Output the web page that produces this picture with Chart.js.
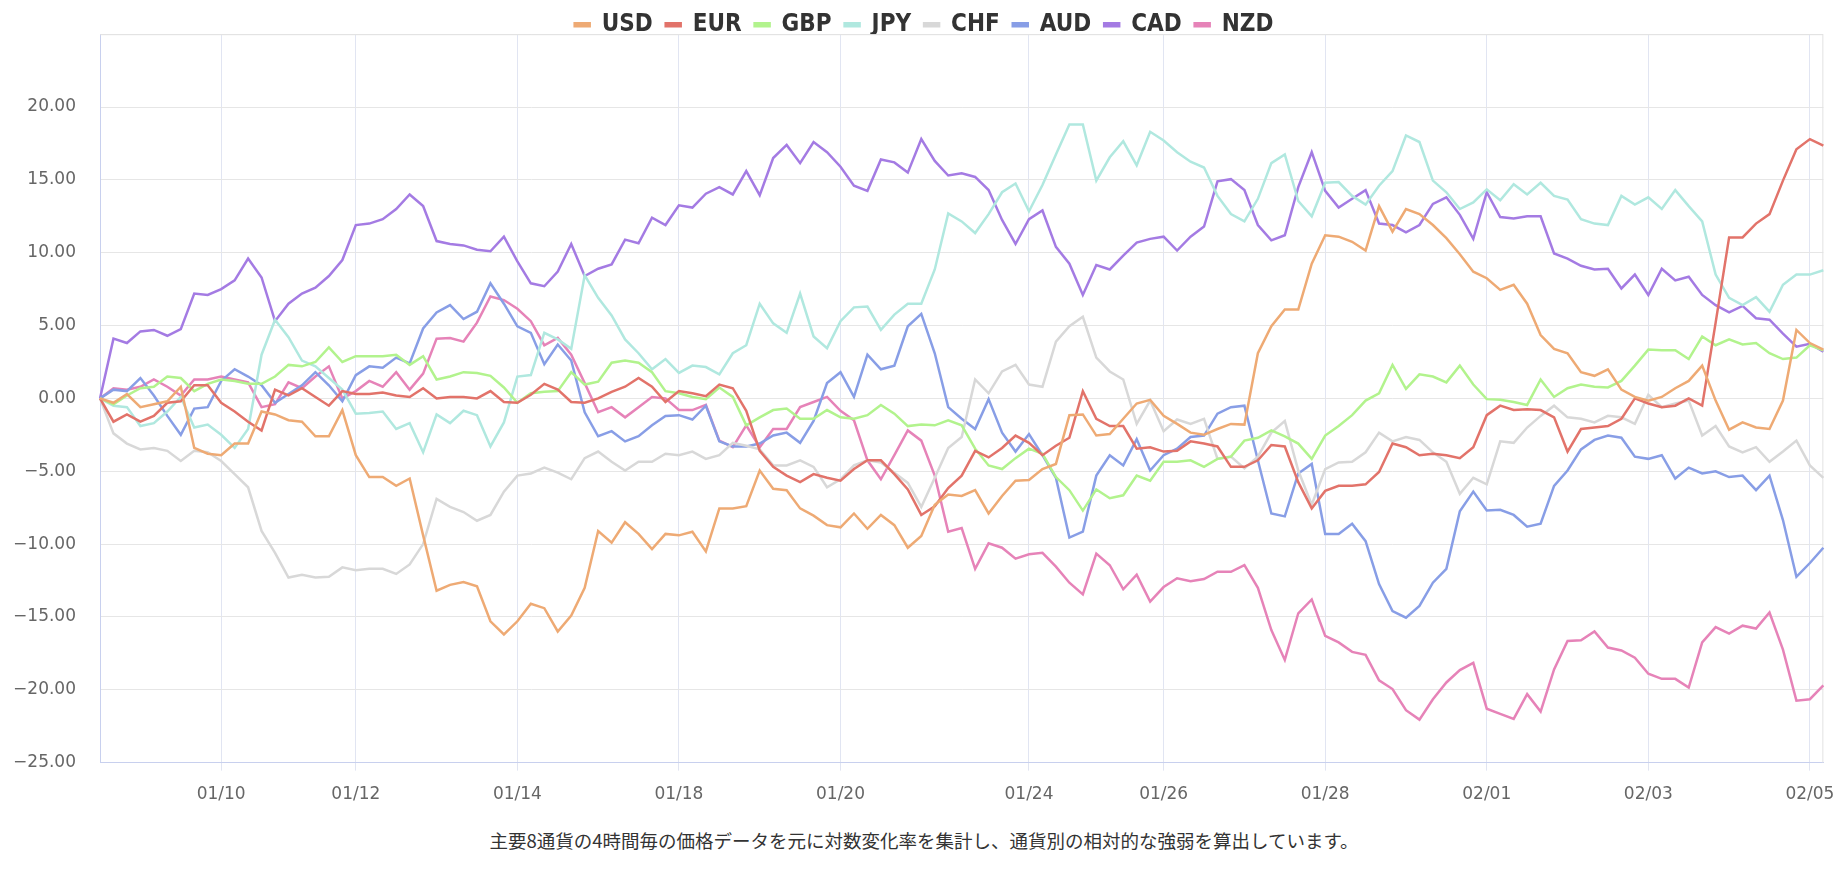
<!DOCTYPE html>
<html lang="ja">
<head>
<meta charset="utf-8">
<title>通貨強弱チャート</title>
<script src="https://cdn.jsdelivr.net/npm/chart.js@4/dist/chart.umd.min.js"></script>
<style>
  html, body { margin: 0; padding: 0; background: #fff; }
  #wrap { position: relative; width: 1848px; height: 822px; }
  #note {
    text-align: center;
    font-family: "Noto Sans CJK JP", sans-serif;
    font-size: 18.5px;
    color: #333;
    margin-top: 5px;
  }
</style>
</head>
<body>
<div id="wrap"><canvas id="strength"></canvas></div>
<div id="note">主要8通貨の4時間毎の価格データを元に対数変化率を集計し、通貨別の相対的な強弱を算出しています。</div>
<script>
// x axis: 129 four-hour points, dates shown only at these points
const tickLabels = ["01/10", "01/12", "01/14", "01/18", "01/20", "01/24", "01/26", "01/28", "02/01", "02/03", "02/05"];
const tickIndex = [9, 19, 31, 43, 55, 69, 79, 91, 103, 115, 127];

const usd = [
  0, -0.3, 0.3, -0.6, -0.4, -0.2, 0.8, -3.4, -3.8, -3.9, -3.1, -3.1, -0.9,
  -1.1, -1.5, -1.6, -2.6, -2.6, -0.8, -3.9, -5.4, -5.4, -6.0, -5.5, -9.4, -13.2,
  -12.8, -12.6, -12.9, -15.3, -16.2, -15.3, -14.1, -14.4, -16.0, -14.9, -13.0, -9.1, -9.9,
  -8.5, -9.3, -10.35, -9.3, -9.4, -9.15, -10.5, -7.55, -7.55, -7.4, -4.95, -6.2, -6.3,
  -7.55, -8.05, -8.7, -8.85, -7.9, -8.95, -8.0, -8.7, -10.25, -9.45, -7.3, -6.6, -6.7,
  -6.3, -7.9, -6.7, -5.65, -5.6, -4.85, -4.5, -1.15, -1.1, -2.55, -2.45, -1.4, -0.35,
  -0.1, -1.2, -1.75, -2.35, -2.5, -2.1, -1.75, -1.8, 3.1, 4.95, 6.1, 6.1, 9.25,
  11.2, 11.1, 10.75, 10.15, 13.2, 11.45, 13.0, 12.65, 11.9, 11.0, 9.9, 8.7, 8.25,
  7.45, 7.8, 6.5, 4.35, 3.4, 3.1, 1.8, 1.55, 2.0, 0.6, 0.1, -0.15, 0.1,
  0.7, 1.2, 2.25, -0.15, -2.15, -1.65, -2.0, -2.1, -0.15, 4.7, 3.8, 3.35
];
const eur = [
  0, -1.6, -1.1, -1.6, -1.2, -0.3, -0.2, 0.9, 0.9, -0.3, -0.9, -1.6, -2.2,
  0.6, 0.2, 0.7, 0.1, -0.5, 0.5, 0.3, 0.3, 0.4, 0.2, 0.1, 0.7, 0.0,
  0.1, 0.1, 0.0, 0.5, -0.25, -0.3, 0.25, 1.0, 0.6, -0.25, -0.3, 0.0, 0.45,
  0.8, 1.4, 0.8, -0.25, 0.5, 0.35, 0.15, 0.95, 0.7, -0.85, -3.6, -4.7, -5.3,
  -5.75, -5.2, -5.45, -5.65, -4.85, -4.25, -4.25, -5.2, -6.25, -8.0, -7.4, -6.15, -5.3,
  -3.6, -4.05, -3.4, -2.55, -3.05, -3.9, -3.25, -2.7, 0.5, -1.4, -1.9, -1.9, -3.45,
  -3.35, -3.65, -3.6, -2.95, -3.1, -3.3, -4.7, -4.7, -4.25, -3.2, -3.3, -5.75, -7.55,
  -6.35, -6.0, -6.0, -5.9, -5.05, -3.1, -3.35, -3.9, -3.8, -3.9, -4.1, -3.35, -1.15,
  -0.5, -0.8, -0.75, -0.8, -1.3, -3.65, -2.1, -2.0, -1.9, -1.4, 0.0, -0.35, -0.6,
  -0.5, 0.0, -0.5, 5.2, 11.05, 11.05, 12.0, 12.65, 14.95, 17.1, 17.8, 17.35
];
const gbp = [
  0, -0.4, 0.2, 0.7, 0.8, 1.5, 1.4, 0.5, 1.0, 1.3, 1.2, 1.0, 1.0,
  1.5, 2.3, 2.2, 2.5, 3.5, 2.5, 2.9, 2.9, 2.9, 3.0, 2.3, 2.9, 1.3,
  1.5, 1.8, 1.75, 1.55, 0.75, -0.3, 0.35, 0.45, 0.5, 1.8, 0.95, 1.15, 2.45,
  2.6, 2.45, 1.8, 0.5, 0.35, 0.1, -0.05, 0.75, 0.1, -1.85, -1.3, -0.8, -0.7,
  -1.4, -1.4, -0.8, -1.3, -1.4, -1.15, -0.45, -1.05, -1.9, -1.8, -1.85, -1.5, -1.85,
  -3.45, -4.6, -4.85, -4.1, -3.45, -3.8, -5.4, -6.3, -7.7, -6.25, -6.85, -6.65, -5.3,
  -5.65, -4.35, -4.35, -4.25, -4.7, -4.15, -4.0, -2.9, -2.7, -2.2, -2.6, -3.1, -4.15,
  -2.55, -1.9, -1.15, -0.15, 0.35, 2.3, 0.65, 1.65, 1.5, 1.1, 2.25, 0.95, -0.05,
  -0.1, -0.25, -0.45, 1.3, 0.1, 0.7, 0.95, 0.8, 0.75, 1.2, 2.25, 3.35, 3.3,
  3.3, 2.7, 4.25, 3.65, 4.05, 3.7, 3.8, 3.1, 2.7, 2.8, 3.65, 3.3
];
const jpy = [
  0, -0.5, -0.6, -1.9, -1.7, -0.9, 0.1, -2.0, -1.8, -2.5, -3.4, -2.1, 3.0,
  5.4, 4.2, 2.6, 2.2, 1.4, 0.6, -1.05, -1.0, -0.9, -2.1, -1.7, -3.7, -1.1,
  -1.7, -0.85, -1.15, -3.3, -1.65, 1.5, 1.6, 4.5, 4.05, 3.4, 8.45, 6.9, 5.7,
  4.05, 3.1, 2.0, 2.7, 1.75, 2.25, 2.15, 1.65, 3.1, 3.65, 6.5, 5.15, 4.5,
  7.2, 4.25, 3.45, 5.3, 6.25, 6.3, 4.7, 5.75, 6.5, 6.5, 8.85, 12.7, 12.15,
  11.35, 12.65, 14.15, 14.75, 12.85, 14.65, 16.75, 18.8, 18.8, 14.95, 16.55, 17.65, 16.0,
  18.3, 17.7, 16.9, 16.25, 15.85, 13.9, 12.65, 12.15, 13.7, 16.15, 16.75, 13.55, 12.5,
  14.8, 14.85, 13.9, 13.3, 14.6, 15.6, 18.05, 17.6, 14.95, 14.15, 13.0, 13.45, 14.35,
  13.6, 14.7, 14.0, 14.8, 13.9, 13.65, 12.3, 12.0, 11.9, 13.9, 13.3, 13.8, 13.0,
  14.3, 13.2, 12.15, 8.5, 6.9, 6.4, 6.95, 5.95, 7.8, 8.5, 8.5, 8.8
];
const chf = [
  0, -2.4, -3.1, -3.5, -3.4, -3.6, -4.3, -3.6, -3.7, -4.3, -5.2, -6.1, -9.1,
  -10.6, -12.3, -12.1, -12.3, -12.25, -11.6, -11.8, -11.7, -11.7, -12.05, -11.4, -10.0, -6.9,
  -7.45, -7.8, -8.4, -8.0, -6.4, -5.3, -5.15, -4.75, -5.1, -5.55, -4.1, -3.65, -4.35,
  -4.95, -4.35, -4.35, -3.8, -3.9, -3.65, -4.15, -3.9, -3.05, -3.25, -3.5, -4.6, -4.6,
  -4.25, -4.7, -6.1, -5.55, -4.6, -4.25, -4.4, -5.1, -5.8, -7.45, -5.45, -3.4, -2.65,
  1.3, 0.35, 1.85, 2.3, 0.95, 0.8, 3.9, 4.95, 5.6, 2.8, 1.85, 1.3, -1.75,
  -0.15, -2.25, -1.45, -1.75, -1.4, -4.15, -4.0, -4.8, -4.0, -2.35, -1.55, -4.95, -7.3,
  -4.85, -4.4, -4.35, -3.7, -2.35, -2.95, -2.65, -2.85, -3.7, -4.35, -6.55, -5.45, -5.9,
  -2.95, -3.05, -2.0, -1.2, -0.5, -1.3, -1.4, -1.65, -1.2, -1.3, -1.75, 0.25, -0.6,
  -0.35, -0.15, -2.55, -1.9, -3.3, -3.7, -3.35, -4.35, -3.65, -2.9, -4.6, -5.45
];
const aud = [
  0, 0.6, 0.5, 1.4, 0.2, -1.2, -2.5, -0.7, -0.6, 1.2, 2.0, 1.5, 0.9,
  -0.3, 0.3, 0.9, 1.8, 0.9, -0.2, 1.6, 2.2, 2.1, 2.8, 2.4, 4.8, 5.9,
  6.4, 5.45, 5.95, 7.9, 6.5, 4.95, 4.5, 2.35, 3.7, 2.6, -0.95, -2.6, -2.25,
  -2.95, -2.6, -1.85, -1.2, -1.15, -1.45, -0.5, -2.95, -3.3, -3.3, -3.1, -2.55, -2.35,
  -3.05, -1.55, 1.05, 1.8, 0.1, 3.0, 2.0, 2.25, 4.95, 5.8, 3.1, -0.6, -1.4,
  -2.1, -0.05, -2.35, -3.65, -2.45, -3.9, -5.45, -9.55, -9.15, -5.3, -3.9, -4.6, -2.8,
  -4.95, -3.9, -3.45, -2.65, -2.55, -1.05, -0.6, -0.5, -4.25, -7.9, -8.1, -5.15, -4.5,
  -9.3, -9.3, -8.6, -9.8, -12.75, -14.6, -15.05, -14.25, -12.65, -11.7, -7.75, -6.4, -7.7,
  -7.65, -8.0, -8.8, -8.6, -6.0, -4.95, -3.5, -2.85, -2.55, -2.7, -4.0, -4.15, -3.9,
  -5.5, -4.75, -5.15, -5.0, -5.4, -5.3, -6.3, -5.3, -8.35, -12.25, -11.3, -10.25
];
const cad = [
  0, 4.1, 3.8, 4.6, 4.7, 4.3, 4.75, 7.2, 7.1, 7.5, 8.1, 9.6, 8.3,
  5.3, 6.5, 7.2, 7.6, 8.4, 9.5, 11.9, 12.0, 12.3, 13.0, 14.0, 13.2, 10.8,
  10.6, 10.5, 10.2, 10.1, 11.1, 9.4, 7.9, 7.7, 8.7, 10.6, 8.4, 8.9, 9.2,
  10.9, 10.65, 12.4, 11.9, 13.25, 13.1, 14.05, 14.5, 14.0, 15.6, 13.95, 16.5, 17.4,
  16.15, 17.6, 16.9, 15.9, 14.6, 14.25, 16.4, 16.2, 15.5, 17.8, 16.3, 15.3, 15.45,
  15.2, 14.3, 12.25, 10.6, 12.3, 12.9, 10.4, 9.25, 7.1, 9.15, 8.85, 9.8, 10.7,
  10.95, 11.1, 10.15, 11.1, 11.8, 14.9, 15.05, 14.3, 11.9, 10.85, 11.2, 14.5, 16.9,
  14.25, 13.1, 13.7, 14.3, 12.0, 11.9, 11.4, 11.9, 13.35, 13.8, 12.6, 10.95, 14.15,
  12.45, 12.35, 12.5, 12.5, 9.95, 9.6, 9.1, 8.85, 8.9, 7.55, 8.5, 7.1, 8.9,
  8.1, 8.35, 7.1, 6.4, 5.9, 6.35, 5.5, 5.4, 4.45, 3.55, 3.75, 3.2
];
const nzd = [
  0, 0.7, 0.6, 0.8, 1.3, 0.8, 0.2, 1.3, 1.3, 1.5, 1.3, 1.1, -0.6,
  -0.4, 1.1, 0.7, 1.5, 2.2, 0.0, 0.5, 1.2, 0.8, 1.8, 0.6, 1.7, 4.1,
  4.15, 3.9, 5.2, 7.0, 6.75, 6.15, 5.3, 3.65, 4.15, 3.0, 1.05, -0.95, -0.6,
  -1.3, -0.6, 0.1, 0.0, -0.8, -0.8, -0.45, -2.9, -3.35, -1.85, -3.35, -2.1, -2.1,
  -0.6, -0.25, 0.1, -0.85, -1.5, -4.25, -5.55, -3.9, -2.2, -2.9, -5.3, -9.15, -8.9,
  -11.7, -9.95, -10.25, -11.0, -10.7, -10.6, -11.55, -12.65, -13.45, -10.65, -11.45, -13.1, -12.1,
  -13.95, -12.95, -12.35, -12.55, -12.4, -11.9, -11.9, -11.45, -13.0, -15.9, -17.95, -14.75, -13.8,
  -16.3, -16.75, -17.4, -17.6, -19.35, -19.95, -21.4, -22.05, -20.65, -19.5, -18.65, -18.15, -21.3,
  -21.65, -22.0, -20.3, -21.5, -18.6, -16.65, -16.6, -16.0, -17.1, -17.3, -17.8, -18.9, -19.25,
  -19.25, -19.85, -16.75, -15.7, -16.15, -15.6, -15.8, -14.7, -17.25, -20.75, -20.65, -19.7
];

const currencies = ["USD", "EUR", "GBP", "JPY", "CHF", "AUD", "CAD", "NZD"];
const series = [usd, eur, gbp, jpy, chf, aud, cad, nzd];
const colors = ["#eeaa74", "#e2736a", "#b2f38d", "#b0e8df", "#d8d8d8", "#889ee6", "#a47be3", "#e683b8"];

const labels = usd.map((_, i) => {
  const k = tickIndex.indexOf(i);
  return k >= 0 ? tickLabels[k] : "";
});

Chart.defaults.font.family = "'DejaVu Sans', sans-serif";
Chart.defaults.font.size = 17;
Chart.defaults.color = "#666";

// light frame on the top and right edges of the plot
const frame = {
  id: "frame",
  beforeDatasetsDraw(chart) {
    const { ctx, chartArea } = chart;
    ctx.save();
    ctx.strokeStyle = "#e2e2e2";
    ctx.lineWidth = 1;
    ctx.beginPath();
    ctx.moveTo(chartArea.left, chartArea.top + 0.5);
    ctx.lineTo(chartArea.right - 0.5, chartArea.top + 0.5);
    ctx.lineTo(chartArea.right - 0.5, chartArea.bottom);
    ctx.stroke();
    ctx.restore();
  }
};

// the legend sits close to the plot and is centred on the whole canvas
const tightLegend = {
  id: "tightLegend",
  beforeInit(chart) {
    const fit = chart.legend.fit;
    chart.legend.fit = function () {
      fit.call(this);
      this.height -= 12.5;
    };
  },
  afterLayout(chart) {
    chart.legend.right = chart.width;
  }
};

const ctx = document.getElementById("strength").getContext("2d");
new Chart(ctx, {
  type: "line",
  data: {
    labels: labels,
    datasets: currencies.map((name, i) => ({
      label: name,
      data: series[i],
      borderColor: colors[i],
      backgroundColor: colors[i],
      borderWidth: 2.5,
      pointRadius: 0,
      pointHoverRadius: 0,
      tension: 0,
      fill: false
    }))
  },
  options: {
    responsive: true,
    maintainAspectRatio: false,
    animation: false,
    layout: { padding: { left: 0, right: 15, top: -15, bottom: 4 } },
    plugins: {
      legend: {
        position: "top",
        labels: {
          boxWidth: 15,
          boxHeight: 3,
          padding: 13,
          color: "#333",
          font: { family: "'Liberation Sans Narrow', 'DejaVu Sans Condensed', sans-serif", size: 24, weight: "bold" }
        }
      },
      tooltip: { enabled: false }
    },
    scales: {
      x: {
        offset: false,
        grid: { color: "#e1e5f2", tickLength: 8 },
        border: { color: "#c8d0ee" },
        ticks: {
          autoSkip: false,
          maxRotation: 0,
          padding: 13.5,
          callback: (v, i) => labels[i] || null
        }
      },
      y: {
        min: -25,
        max: 25,
        afterFit: scale => { scale.width = 100; },
        grid: { color: "#e6e6e6", drawTicks: false },
        border: { color: "#c8d0ee" },
        ticks: {
          stepSize: 5,
          padding: 24,
          callback: v => (v >= 25 ? "" : v.toFixed(2).replace("-", "\u2212"))
        }
      }
    }
  },
  plugins: [frame, tightLegend]
});
</script>
</body>
</html>
